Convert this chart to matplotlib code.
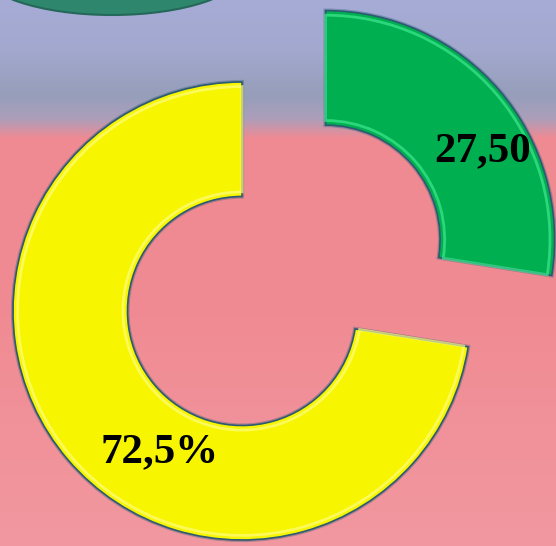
import numpy as np
import matplotlib
matplotlib.use("Agg")
import matplotlib.pyplot as plt
from matplotlib.patches import Ellipse
import matplotlib.patheffects as pe

# ---- data ----
categories = ["Yes", "No"]
values = [72.5, 27.5]
labels = ["72,5%", "27,50"]
colors = ["#f7f500", "#00b050"]
highlight_colors = ["#fdfd80", "#40e890"]
explode = [0.0, 0.48]

W, H = 556, 546
fig = plt.figure(figsize=(W / 100, H / 100), dpi=100)

# ---- background gradient ----
bg = fig.add_axes([0, 0, 1, 1])
bg.set_axis_off()
ys = np.arange(H)
stops_y = [0, 50, 95, 118, 138, 300, 546]
stops_c = np.array([
    [166, 172, 214],
    [162, 168, 206],
    [150, 158, 186],
    [172, 158, 186],
    [240, 138, 146],
    [240, 138, 146],
    [242, 152, 160],
]) / 255.0
grad = np.stack([np.interp(ys, stops_y, stops_c[:, k]) for k in range(3)], axis=1)
img = np.repeat(grad[:, None, :], W, axis=1)
bg.imshow(img, extent=[0, W, H, 0], aspect="auto")
bg.set_xlim(0, W)
bg.set_ylim(H, 0)
bg.add_patch(Ellipse((112, -30), 264, 90, facecolor="#2e866d",
                     edgecolor="#24685a", lw=1.5))

# ---- donut ----
R = 229.0
cx, cy = 242.0, 311.0
ax = fig.add_axes([0, 0, 1, 1])
ax.set_axis_off()

wedges, _ = ax.pie(values, colors=colors, explode=explode, startangle=90,
                   counterclock=True, radius=1.0,
                   wedgeprops=dict(width=0.5, edgecolor="#2b5a72", linewidth=1.2))
for w in wedges:
    w.set_path_effects([pe.Stroke(linewidth=3.0, foreground="#2b5a72", alpha=0.35),
                        pe.Normal()])

# inner bevel highlight (same data, slightly inset ring)
inset = 0.02
hl, _ = ax.pie(values, colors=["none", "none"], explode=explode, startangle=90,
               counterclock=True, radius=1.0 - inset,
               wedgeprops=dict(width=0.5 - 2 * inset, linewidth=2.0, fill=False))
for w, c in zip(hl, highlight_colors):
    w.set_edgecolor(c)
    w.set_alpha(0.7)

ax.set_xlim(-cx / R, (W - cx) / R)
ax.set_ylim(-(H - cy) / R, cy / R)
ax.set_aspect("auto")

# label positions relative to each wedge's center (polar offsets)
label_offsets = [(0.712, 239.8), (0.786, 29.3)]
for w, lab, (r, a) in zip(wedges, labels, label_offsets):
    x0, y0 = w.center
    t = np.deg2rad(a)
    ax.text(x0 + r * np.cos(t), y0 + r * np.sin(t), lab, ha="center", va="center",
            fontsize=31, fontweight="bold", family="Liberation Serif", color="black")

fig.savefig("out.png", dpi=100)
